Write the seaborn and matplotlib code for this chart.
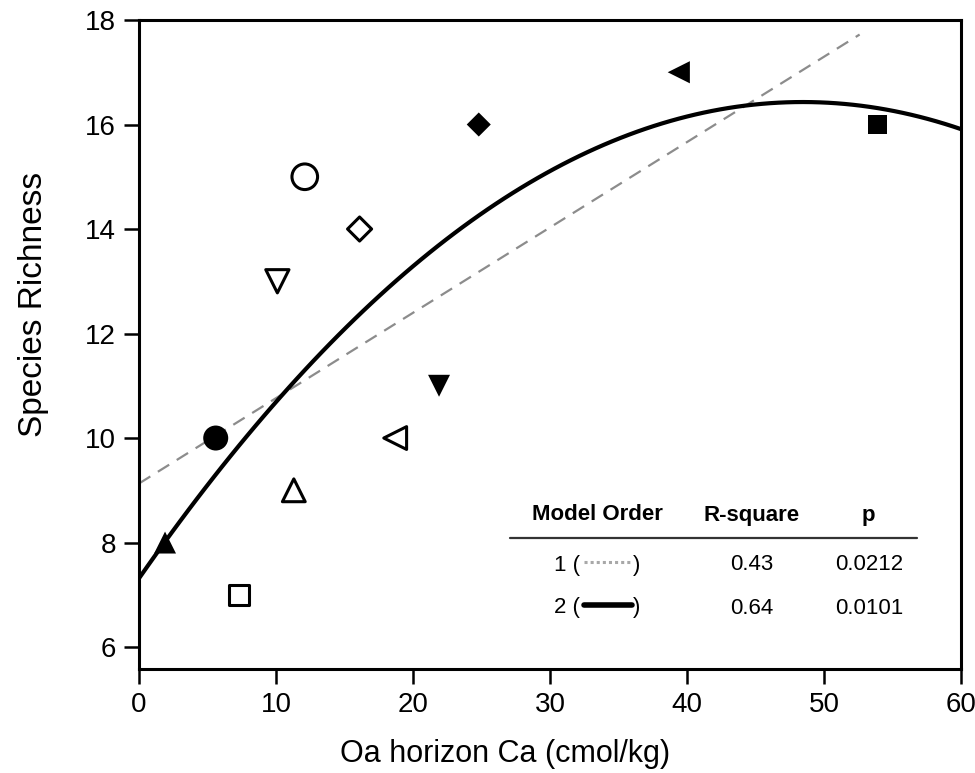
import numpy as np
import pandas as pd
import matplotlib
matplotlib.use('Agg')
import matplotlib.pyplot as plt
from matplotlib.lines import Line2D
import seaborn as sns

# values
ca = [1.9, 5.6, 7.3, 10.1, 11.3, 12.1, 16.1, 18.7, 21.9, 24.8, 39.4, 53.9]
richness = [8, 10, 7, 13, 9, 15, 14, 10, 11, 16, 17, 16]
markers = ['^', 'o', 's', 'v', '^', 'o', 'D', '<', 'v', 'D', '<', 's']
filled = [True, True, False, False, False, False, False, False, True, True, True, True]

model_order = ['1', '2']
r_square = ['0.43', '0.64']
p_values = ['0.0212', '0.0101']

df = pd.DataFrame({'ca': ca, 'richness': richness, 'marker': markers, 'filled': filled})

sns.set_theme(style="ticks")
plt.rcParams['font.family'] = ['Liberation Sans', 'DejaVu Sans']
plt.rcParams['text.color'] = 'black'
plt.rcParams['axes.labelcolor'] = 'black'
plt.rcParams['xtick.color'] = 'black'
plt.rcParams['ytick.color'] = 'black'

fig = plt.figure(figsize=(9.75, 7.73), dpi=100)
ax = fig.add_axes([139/975, 1-669/773, (961-139)/975, (669-20)/773])

marker_map = {m: m for m in ['^', 'o', 's', 'v', 'D', '<']}
size_filled = {'^': 250, 'o': 324, 's': 190, 'v': 250, 'D': 150, '<': 255}
size_open = {'^': 270, 'o': 340, 's': 210, 'v': 280, 'D': 150, '<': 270}

# linear fit (dashed) drawn from the y axis to where the original line stops
ax.set_xlim(0, 52.6)
sns.regplot(data=df, x='ca', y='richness', order=1, ci=None, scatter=False, ax=ax,
            truncate=False, line_kws=dict(color='#8c8c8c', lw=1.6, ls=(0, (6, 4))))
# quadratic fit over the whole axis
ax.set_xlim(0, 60)
sns.regplot(data=df, x='ca', y='richness', order=2, ci=None, scatter=False, ax=ax,
            truncate=False, line_kws=dict(color='black', lw=3.0))

d_fill = df[df['filled']]
d_open = df[~df['filled']]
sns.scatterplot(data=d_fill, x='ca', y='richness', style='marker', markers=marker_map,
                size='marker', sizes=size_filled, color='black', linewidth=0,
                legend=False, ax=ax, zorder=5)
sns.scatterplot(data=d_open, x='ca', y='richness', style='marker', markers=marker_map,
                size='marker', sizes=size_open, color='white', edgecolor='black',
                linewidth=2.2, legend=False, ax=ax, zorder=5)

ax.set_xlim(0, 60)
ax.set_ylim(5.58, 18)
ax.set_xticks([0, 10, 20, 30, 40, 50, 60])
ax.set_yticks([6, 8, 10, 12, 14, 16, 18])

for s in ax.spines.values():
    s.set_linewidth(2.2)
    s.set_color('black')
ax.tick_params(axis='both', length=10.5, width=1.8, labelsize=20, pad=6, color='black')

ax.set_xlabel("Oa horizon Ca (cmol/kg)", fontsize=22)
ax.set_ylabel("Species Richness", fontsize=24)
ax.xaxis.set_label_coords(0.445, -0.108)
ax.yaxis.set_label_coords(-0.11, 0.562)

# inset table with model statistics
def fx(px):
    return px / 975

def fy(py):
    return 1 - py / 773

hdr = dict(fontsize=16, fontweight='bold', ha='center', va='center')
fig.text(fx(597), fy(515), 'Model Order', **hdr)
fig.text(fx(752), fy(515), 'R-square', **hdr)
fig.text(fx(868), fy(515), 'p', **hdr)
fig.add_artist(Line2D([fx(510), fx(917)], [fy(538), fy(538)], color='#333333', lw=1.6))

row_y = [565, 608]
samples = [dict(color='#a8a8a8', lw=2.2, ls=(0, (1, 1))), dict(color='black', lw=4)]
for i in range(2):
    fig.text(fx(580), fy(row_y[i]), model_order[i] + ' (', fontsize=16, ha='right', va='center')
    fig.add_artist(Line2D([fx(584), fx(632)], [fy(row_y[i] - 3), fy(row_y[i] - 3)], **samples[i]))
    fig.text(fx(633), fy(row_y[i]), ')', fontsize=16, ha='left', va='center')
    fig.text(fx(752), fy(row_y[i]), r_square[i], fontsize=16, ha='center', va='center')
    fig.text(fx(869), fy(row_y[i]), p_values[i], fontsize=16, ha='center', va='center')

plt.savefig('out.png', dpi=100)
